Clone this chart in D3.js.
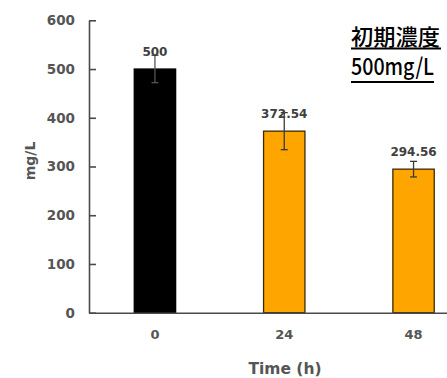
<!DOCTYPE html>
<html>
<head>
<meta charset="utf-8">
<script src="https://cdn.jsdelivr.net/npm/d3@7"></script>
<style>
  html, body { margin: 0; padding: 0; background: #fff; }
  svg { display: block; }
</style>
</head>
<body>
<div id="chart"></div>
<script>
// ---- data ----
const categories = ["0", "24", "48"];
const values = [500, 372.54, 294.56];
const errors = [28, 38, 16];
const valueLabels = ["500", "372.54", "294.56"];
const barColors = ["#000000", "#FFA500", "#FFA500"];
const yTicks = [0, 100, 200, 300, 400, 500, 600];
const titleLines = ["初期濃度", "500mg/L"];
const xTitle = "Time (h)";
const yTitle = "mg/L";

const W = 447, H = 378;
const svg = d3.select("#chart").append("svg").attr("width", W).attr("height", H);

const axisX0 = 89;
const y = d3.scaleLinear().domain([0, 600]).range([312.7, 20.3]);
const x = d3.scaleBand().domain(categories).range([axisX0, 479.5])
  .paddingInner(0.68).paddingOuter(0.35);

const textGrey = "#555555";
const axisCol = "#4a4a4a";

// bars
const bars = svg.append("g");
categories.forEach((c, i) => {
  bars.append("rect")
    .attr("x", x(c))
    .attr("y", y(values[i]))
    .attr("width", x.bandwidth())
    .attr("height", y(0) - y(values[i]))
    .attr("fill", barColors[i])
    .attr("stroke", i === 0 ? "#000" : "#3d2b00")
    .attr("stroke-width", 1.3);
});

// error bars
const eb = svg.append("g").attr("stroke-width", 1.3);
categories.forEach((c, i) => {
  const cx = x(c) + x.bandwidth() / 2;
  const yt = y(values[i] + errors[i]);
  const ybm = y(values[i] - errors[i]);
  const col = i === 0 ? "#555" : "#3a3a3a";
  eb.append("line").attr("x1", cx).attr("x2", cx).attr("y1", yt).attr("y2", ybm).attr("stroke", col);
  eb.append("line").attr("x1", cx - 3.5).attr("x2", cx + 3.5).attr("y1", yt).attr("y2", yt).attr("stroke", col);
  eb.append("line").attr("x1", cx - 3.5).attr("x2", cx + 3.5).attr("y1", ybm).attr("y2", ybm).attr("stroke", col);
});

// value labels
categories.forEach((c, i) => {
  svg.append("text")
    .attr("x", x(c) + x.bandwidth() / 2)
    .attr("y", y(values[i]) - 13.5)
    .attr("text-anchor", "middle")
    .attr("font-family", "DejaVu Sans")
    .attr("font-weight", "bold")
    .attr("font-size", 12)
    .attr("fill", "#404040")
    .text(valueLabels[i]);
});

// y axis
const yAxis = d3.axisLeft(y).tickValues(yTicks).tickFormat(d3.format("d"))
  .tickSizeInner(-7).tickSizeOuter(0).tickPadding(14);
const gy = svg.append("g").attr("transform", `translate(${axisX0},0)`).call(yAxis);
gy.select(".domain").attr("stroke", axisCol).attr("stroke-width", 1.6);
gy.selectAll(".tick line").attr("stroke", axisCol).attr("stroke-width", 1.6);
gy.selectAll(".tick text").attr("font-family", "DejaVu Sans").attr("font-weight", "bold")
  .attr("font-size", 13.5).attr("fill", textGrey);

// x axis
const xAxis = d3.axisBottom(x).tickSize(0).tickPadding(17);
const gx = svg.append("g").attr("transform", `translate(0,${y(0)})`).call(xAxis);
gx.select(".domain").attr("stroke", axisCol).attr("stroke-width", 1.6);
gx.selectAll(".tick text").attr("font-family", "DejaVu Sans").attr("font-weight", "bold")
  .attr("font-size", 13).attr("fill", textGrey);

// axis titles
svg.append("text")
  .attr("x", 285).attr("y", 374)
  .attr("text-anchor", "middle")
  .attr("font-family", "DejaVu Sans").attr("font-weight", "bold")
  .attr("font-size", 15.5).attr("fill", textGrey)
  .text(xTitle);

svg.append("text")
  .attr("transform", "translate(35,161) rotate(-90)")
  .attr("text-anchor", "middle")
  .attr("font-family", "DejaVu Sans").attr("font-weight", "bold")
  .attr("font-size", 14).attr("fill", textGrey)
  .text(yTitle);

// annotation (underlined)
const ann = svg.append("g");
ann.append("text")
  .attr("x", 351).attr("y", 45)
  .attr("font-family", "Noto Sans CJK JP").attr("font-weight", 500).attr("font-size", 22)
  .attr("textLength", 89).attr("lengthAdjust", "spacingAndGlyphs")
  .attr("fill", "#000")
  .text(titleLines[0]);
ann.append("line").attr("x1", 351).attr("x2", 441).attr("y1", 48.5).attr("y2", 48.5)
  .attr("stroke", "#000").attr("stroke-width", 1.8);
ann.append("text")
  .attr("x", 351).attr("y", 74.5)
  .attr("font-family", "Noto Sans CJK JP").attr("font-weight", 500).attr("font-size", 23)
  .attr("textLength", 83).attr("lengthAdjust", "spacingAndGlyphs")
  .attr("fill", "#000")
  .text(titleLines[1]);
ann.append("line").attr("x1", 351).attr("x2", 434).attr("y1", 82).attr("y2", 82)
  .attr("stroke", "#000").attr("stroke-width", 1.8);
</script>
</body>
</html>
